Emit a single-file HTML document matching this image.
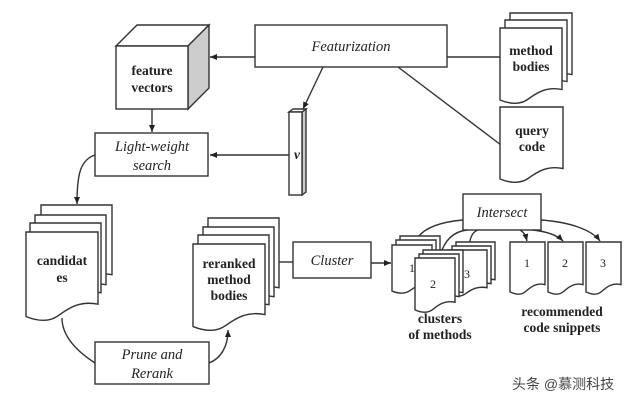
<!DOCTYPE html>
<html><head><meta charset="utf-8"><style>
html,body{margin:0;padding:0;background:#fff}
svg{display:block}
text{font-family:"Liberation Serif",serif;fill:#222}
.b{font-weight:bold;font-size:13.5px}
.i{font-style:italic;font-size:14.5px}
</style></head><body>
<svg width="640" height="408" viewBox="0 0 640 408" xmlns="http://www.w3.org/2000/svg">
<defs>
<path id="doc" d="M0,0 H100 V82 C75,78 60,86 45,95 C30,104 12,100 0,96 Z" fill="#fff" stroke="#333" stroke-width="1.4" vector-effect="non-scaling-stroke"/>
<marker id="ar" markerWidth="8" markerHeight="8" refX="7" refY="4" orient="auto" markerUnits="userSpaceOnUse"><path d="M0,1 L7,4 L0,7 Z" fill="#222"/></marker>
</defs>
<g fill="none" stroke="#333" stroke-width="1.4">
<polygon points="116,46 137,25 209,25 188,46" fill="#fff"/>
<polygon points="188,46 209,25 209,88 188,109" fill="#ccc"/>
<rect x="116" y="46" width="72" height="63" fill="#fff"/>
<rect x="255" y="25" width="192" height="42" fill="#fff"/>
<line x1="255" y1="57" x2="210" y2="57" marker-end="url(#ar)"/>
<line x1="447" y1="57" x2="500" y2="57"/>
<line x1="398" y1="67" x2="501" y2="145"/>
<line x1="323" y1="67" x2="303" y2="109" marker-end="url(#ar)"/>
<polygon points="302,112 306,109 306,192 302,195" fill="#ccc"/>
<polygon points="289,112 293,109 306,109 302,112" fill="#fff"/>
<rect x="289" y="112" width="13" height="83" fill="#fff"/>
<line x1="289" y1="155" x2="210" y2="155" marker-end="url(#ar)"/>
<rect x="95" y="133" width="113" height="43" fill="#fff"/>
<line x1="152" y1="109" x2="152" y2="132" marker-end="url(#ar)"/>
<path d="M95,155 C80,160 77,175 77,204" marker-end="url(#ar)"/>
<path d="M62,318 C62,335 75,350 95,363"/>
<rect x="95" y="342" width="114" height="42" fill="#fff"/>
<path d="M209,363 C222,358 228,345 228,330" marker-end="url(#ar)"/>
<line x1="279" y1="262" x2="293" y2="262"/>
<rect x="293" y="242" width="78" height="36" fill="#fff"/>
<line x1="371" y1="263" x2="391" y2="263" marker-end="url(#ar)"/>
<rect x="463" y="194" width="78" height="36" fill="#fff"/>
<path d="M463,220 C440,222 425,228 418,237"/>
<path d="M467,230 C450,232 443,245 440,256"/>
<path d="M478,230 C472,232 470,238 469,247"/>
<path d="M520,230 C525,233 526,237 527,241" marker-end="url(#ar)"/>
<path d="M533,230 C550,232 558,236 563,241" marker-end="url(#ar)"/>
<path d="M541,220 C570,222 592,230 600,241" marker-end="url(#ar)"/>
</g>
<use href="#doc" transform="translate(510,13) scale(.62,.75)"/>
<use href="#doc" transform="translate(505,20) scale(.62,.75)"/>
<use href="#doc" transform="translate(500,28) scale(.62,.75)"/>
<use href="#doc" transform="translate(500,107) scale(.63,.75)"/>
<use href="#doc" transform="translate(41,205) scale(.71,.85)"/>
<use href="#doc" transform="translate(35,215) scale(.71,.85)"/>
<use href="#doc" transform="translate(30,223) scale(.71,.85)"/>
<use href="#doc" transform="translate(26,232) scale(.72,.88)"/>
<use href="#doc" transform="translate(208,218) scale(.71,.85)"/>
<use href="#doc" transform="translate(203,227) scale(.71,.85)"/>
<use href="#doc" transform="translate(198,235) scale(.71,.85)"/>
<use href="#doc" transform="translate(193,244) scale(.72,.86)"/>
<use href="#doc" transform="translate(400,236) scale(.4,.47)"/>
<use href="#doc" transform="translate(396,240) scale(.4,.47)"/>
<use href="#doc" transform="translate(392,245) scale(.4,.48)"/>
<use href="#doc" transform="translate(456,242) scale(.39,.46)"/>
<use href="#doc" transform="translate(452,246) scale(.39,.46)"/>
<use href="#doc" transform="translate(448,250) scale(.39,.46)"/>
<use href="#doc" transform="translate(423,250) scale(.4,.52)"/>
<use href="#doc" transform="translate(419,254) scale(.4,.52)"/>
<use href="#doc" transform="translate(415,258) scale(.4,.54)"/>
<use href="#doc" transform="translate(510,242) scale(.35,.52)"/>
<use href="#doc" transform="translate(548,242) scale(.35,.52)"/>
<use href="#doc" transform="translate(586,242) scale(.35,.52)"/>
<text class="b" x="152" y="75" text-anchor="middle">feature</text>
<text class="b" x="152" y="92" text-anchor="middle">vectors</text>
<text class="i" x="351" y="51" text-anchor="middle">Featurization</text>
<text class="b" x="531" y="55" text-anchor="middle">method</text>
<text class="b" x="531" y="71" text-anchor="middle">bodies</text>
<text class="b" x="532" y="135" text-anchor="middle">query</text>
<text class="b" x="532" y="151" text-anchor="middle">code</text>
<text class="b" x="297" y="159" text-anchor="middle" style="font-style:italic">v</text>
<text class="i" x="152" y="151" text-anchor="middle">Light-weight</text>
<text class="i" x="152" y="170" text-anchor="middle">search</text>
<text class="b" x="62" y="265" text-anchor="middle">candidat</text>
<text class="b" x="62" y="282" text-anchor="middle">es</text>
<text class="b" x="229" y="268" text-anchor="middle">reranked</text>
<text class="b" x="229" y="284" text-anchor="middle">method</text>
<text class="b" x="229" y="300" text-anchor="middle">bodies</text>
<text class="i" x="332" y="265" text-anchor="middle">Cluster</text>
<text class="i" x="152" y="359" text-anchor="middle">Prune and</text>
<text class="i" x="152" y="378" text-anchor="middle">Rerank</text>
<text class="i" x="502" y="217" text-anchor="middle">Intersect</text>
<text x="409" y="272" font-size="12">1</text>
<text x="430" y="288" font-size="12">2</text>
<text x="464" y="278" font-size="12">3</text>
<text x="524" y="267" font-size="12">1</text>
<text x="562" y="267" font-size="12">2</text>
<text x="600" y="267" font-size="12">3</text>
<text class="b" x="440" y="323" text-anchor="middle">clusters</text>
<text class="b" x="440" y="339" text-anchor="middle">of methods</text>
<text class="b" x="562" y="316" text-anchor="middle">recommended</text>
<text class="b" x="562" y="332" text-anchor="middle">code snippets</text>
<text x="512" y="389" font-size="14" style="font-family:'Liberation Sans','Noto Sans CJK SC',sans-serif;fill:#444">头条 @慕测科技</text>
</svg>
</body></html>
